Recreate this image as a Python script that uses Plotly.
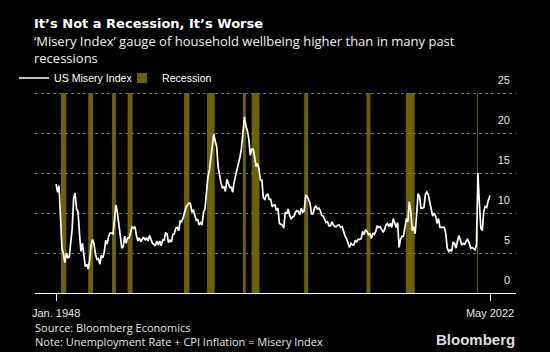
import pandas as pd
import plotly.graph_objects as go

# ---- data (quarterly readings, Jan/Apr/Jul/Oct, plus May 2022) ----
misery = [
    13.6, 12.6, 13.4, 9.8,    # 1948
    5.6, 4.9, 3.8, 5.0,       # 1949
    4.4, 4.5, 6.7, 8.0,       # 1950
    11.8, 12.5, 10.5, 10.2,   # 1951
    7.5, 5.2, 6.2, 4.9,       # 1952
    3.3, 3.6, 3.0, 4.1,       # 1953
    6.0, 6.7, 6.1, 4.8,       # 1954
    4.2, 4.3, 3.6, 4.7,       # 1955
    4.4, 5.1, 6.6, 6.1,       # 1956
    7.1, 7.5, 7.5, 7.4,       # 1957
    9.4, 11.0, 10.0, 8.8,     # 1958
    7.1, 5.6, 5.8, 7.1,       # 1959
    6.2, 6.9, 6.9, 7.5,       # 1960
    8.3, 8.1, 8.3, 7.2,       # 1961
    6.5, 6.9, 6.4, 6.7,       # 1962
    7.0, 6.6, 6.9, 6.5,       # 1963
    7.2, 6.7, 6.2, 6.1,       # 1964
    5.9, 6.5, 6.0, 6.5,       # 1965
    5.9, 6.6, 6.6, 7.5,       # 1966
    7.4, 6.3, 6.6, 6.4,       # 1967
    7.3, 7.4, 8.1, 8.2,       # 1968
    7.8, 9.0, 8.9, 9.4,       # 1969
    10.1, 10.7, 11.0, 11.2,   # 1970
    11.2, 10.1, 10.4, 9.6,    # 1971
    9.1, 9.2, 8.5, 8.8,       # 1972
    8.5, 10.1, 10.5, 12.5,    # 1973
    14.5, 15.3, 17.0, 18.1,   # 1974
    19.9, 19.0, 18.3, 15.8,   # 1975
    14.6, 13.7, 13.1, 13.3,   # 1976
    12.7, 14.2, 13.7, 13.2,   # 1977
    13.2, 12.6, 13.9, 14.7,   # 1978
    15.2, 16.2, 17.0, 18.1,   # 1979
    20.2, 22.0, 20.9, 20.3,   # 1980
    19.3, 17.2, 18.0, 18.0,   # 1981
    17.0, 15.8, 16.2, 15.5,   # 1982
    14.1, 14.1, 11.9, 11.7,   # 1983
    12.2, 12.4, 11.7, 11.7,   # 1984
    10.8, 11.0, 11.0, 10.3,   # 1985
    10.6, 8.7, 8.6, 8.5,      # 1986
    8.1, 10.1, 9.9, 10.5,     # 1987
    9.7, 9.3, 9.5, 9.6,       # 1988
    10.1, 10.3, 10.2, 9.8,    # 1989
    10.6, 10.1, 10.3, 12.2,   # 1990
    12.1, 11.6, 11.2, 9.9,    # 1991
    9.9, 10.6, 10.9, 10.5,    # 1992
    10.6, 10.3, 9.7, 9.6,     # 1993
    9.1, 8.8, 8.9, 8.4,       # 1994
    8.4, 8.9, 8.5, 8.3,       # 1995
    8.3, 8.5, 8.5, 8.2,       # 1996
    8.3, 7.6, 7.1, 6.8,       # 1997
    6.2, 5.7, 6.2, 6.0,       # 1998
    6.0, 6.6, 6.4, 6.7,       # 1999
    6.7, 6.8, 7.7, 7.3,       # 2000
    7.9, 7.7, 7.3, 7.4,       # 2001
    6.8, 7.5, 7.3, 7.7,       # 2002
    8.4, 8.2, 8.3, 8.0,       # 2003
    7.6, 7.9, 8.5, 8.7,       # 2004
    8.3, 8.7, 8.2, 9.3,       # 2005
    8.7, 8.2, 8.8, 5.7,       # 2006
    6.7, 7.1, 7.1, 8.2,       # 2007
    9.3, 8.9, 11.4, 10.2,     # 2008
    7.8, 8.3, 7.4, 9.8,       # 2009
    12.4, 12.1, 10.6, 10.6,   # 2010
    10.7, 12.3, 12.6, 12.3,   # 2011
    11.2, 10.5, 9.6, 10.0,    # 2012
    9.6, 8.7, 9.3, 8.2,       # 2013
    8.2, 8.2, 8.2, 7.4,       # 2014
    5.6, 5.2, 5.4, 5.2,       # 2015
    6.3, 6.2, 5.6, 6.5,       # 2016
    7.2, 6.6, 6.0, 6.2,       # 2017
    6.1, 6.5, 6.7, 6.3,       # 2018
    5.6, 5.7, 5.5, 5.4,       # 2019
    6.0, 15.0, 11.2, 8.1,     # 2020
    7.8, 10.2, 10.8, 10.7,    # 2021
    11.5, 11.9,               # 2022 Jan, Apr
    12.2,                     # May 2022
]
dates = list(pd.date_range("1948-01-01", "2022-04-01", freq="QS")) + [pd.Timestamp("2022-05-01")]

rec_start = ["1948-11-01", "1953-07-01", "1957-08-01", "1960-04-01", "1969-12-01", "1973-11-01",
             "1980-01-01", "1981-07-01", "1990-07-01", "2001-03-01", "2007-12-01", "2020-02-01"]
rec_end = ["1949-10-01", "1954-05-01", "1958-04-01", "1961-02-01", "1970-11-01", "1975-03-01",
           "1980-07-01", "1982-11-01", "1991-03-01", "2001-11-01", "2009-06-01", "2020-04-01"]

tick_vals = ["1948-01-01", "2022-05-01"]
tick_text = ["Jan. 1948", "May 2022"]

REC = "#6b6300"
W, H = 550, 352
L, R, T, B = 35, 34, 69, 59
pw, ph = W - L - R, H - T - B


def px(x):
    return (x - L) / pw


def py(y):
    return (H - B - y) / ph


fig = go.Figure()
fig.add_trace(go.Scatter(x=dates, y=misery, mode="lines", name="US Misery Index",
                         line=dict(color="white", width=1.7), legend="legend"))
fig.add_trace(go.Scatter(x=[None], y=[None], mode="markers", name="Recession",
                         marker=dict(symbol="square", size=10, color=REC), legend="legend2"))

for s, e in zip(rec_start, rec_end):
    fig.add_shape(type="rect", xref="x", yref="y", x0=s, x1=e, y0=0, y1=25,
                  fillcolor=REC, line=dict(width=0), layer="below")

axfont = dict(family="Liberation Sans, Arial, sans-serif", size=11, color="#e6e6e6")
legfont = dict(family="Liberation Sans, Arial, sans-serif", size=10.6, color="white")
txtfont = "Open Sans, sans-serif"

fig.update_layout(
    width=W, height=H,
    margin=dict(l=L, r=R, t=T, b=B),
    paper_bgcolor="black", plot_bgcolor="black",
    xaxis=dict(type="date", range=["1944-05-20", "2026-10-10"],
               tickvals=tick_vals, ticktext=tick_text,
               ticks="outside", ticklen=7, tickcolor="white", tickwidth=1,
               showline=True, linecolor="white", linewidth=1,
               showgrid=False, zeroline=False, tickfont=axfont, ticklabelstandoff=3),
    yaxis=dict(side="right", range=[0, 28], tickvals=[0, 5, 10, 15, 20, 25],
               showgrid=True, griddash="dot", gridcolor="#6a6a6a", gridwidth=1,
               zeroline=False, showline=False, ticks="",
               ticklabelposition="inside top", ticklabelstandoff=3, ticklabelshift=-5,
               tickfont=axfont),
    legend=dict(x=px(14), y=py(78), xanchor="left", yanchor="middle",
                orientation="h", font=legfont, bgcolor="rgba(0,0,0,0)", borderwidth=0),
    legend2=dict(x=px(122), y=py(78), xanchor="left", yanchor="middle",
                 orientation="h", font=legfont, bgcolor="rgba(0,0,0,0)", borderwidth=0),
    showlegend=True,
)

annos = [
    dict(text="<b>It’s Not a Recession, It’s Worse</b>", x=px(33), y=py(24), size=13, color="white",
         xanchor="left", family="DejaVu Sans, sans-serif"),
    dict(text="‘Misery Index’ gauge of household wellbeing higher than in many past<br>recessions",
         x=px(33), y=py(49.5), size=13, color="#f0f0f0", xanchor="left", family=txtfont),
    dict(text="Source: Bloomberg Economics<br>Note: Unemployment Rate + CPI Inflation = Misery Index",
         x=px(34), y=py(334.5), size=11, color="#e6e6e6", xanchor="left", family=txtfont),
    dict(text="<b>Bloomberg</b>", x=px(516), y=py(339), size=15, color="#dddddd", xanchor="right",
         family="Liberation Sans, Arial, sans-serif"),
]
for a in annos:
    fig.add_annotation(text=a["text"], xref="paper", yref="paper", x=a["x"], y=a["y"],
                       xanchor=a["xanchor"], yanchor="middle", showarrow=False,
                       font=dict(family=a["family"], size=a["size"], color=a["color"]),
                       borderpad=0, align="left")

fig.write_html("out.html")
